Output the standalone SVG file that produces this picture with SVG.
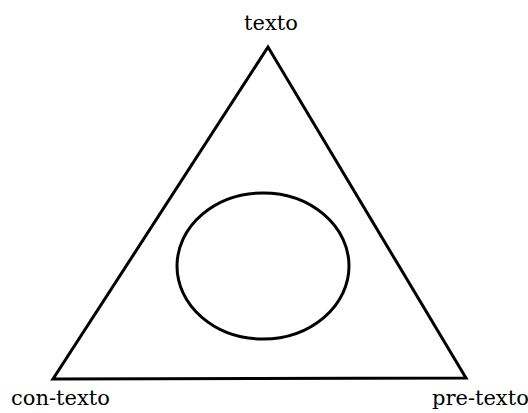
<svg xmlns="http://www.w3.org/2000/svg" width="528" height="413" viewBox="0 0 528 413">
<style>
.s{fill:none;stroke:#000;stroke-width:3;stroke-linejoin:miter}
.t{font-family:"DejaVu Serif",serif;font-size:21px;fill:#000}
</style>
<rect width="528" height="413" fill="#fff"/>
<g id="triangle"><polygon class="s" points="268,47 53,379 466,378"/></g>
<g id="circle"><ellipse class="s" cx="263" cy="266" rx="86" ry="73"/></g>
<g id="label-texto"><text class="t" x="271" y="30" text-anchor="middle">texto</text></g>
<g id="label-con-texto"><text class="t" x="11" y="405">con-texto</text></g>
<g id="label-pre-texto"><text class="t" x="432" y="405">pre-texto</text></g>
<g id="connectors"></g>
</svg>
